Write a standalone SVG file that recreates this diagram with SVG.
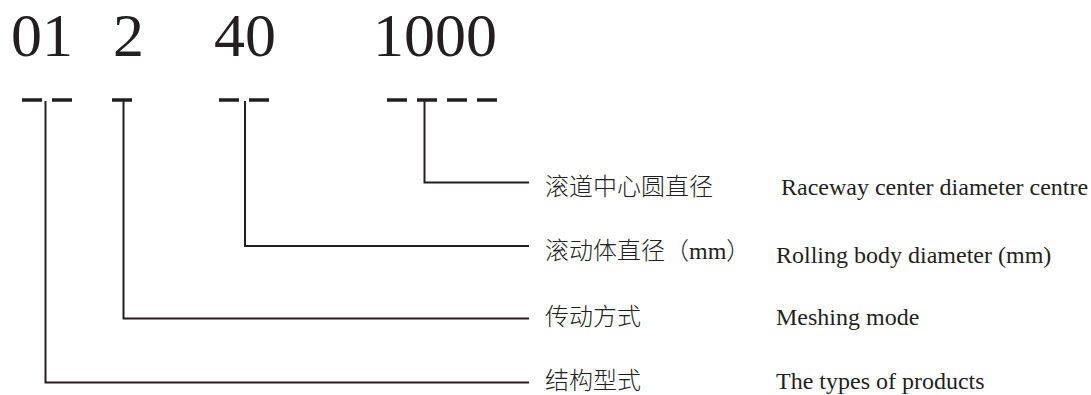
<svg xmlns="http://www.w3.org/2000/svg" width="1091" height="395" viewBox="0 0 1091 395">
<style>
.num{font-family:"Liberation Serif","Times New Roman",serif;font-size:62px;fill:#231f20}
.zh{font-family:"Noto Sans CJK SC","Noto Sans",sans-serif;font-size:24px;font-weight:300;fill:#231f20}
.en{font-family:"Liberation Serif","Times New Roman",serif;font-size:24px;fill:#231f20}
.dash{stroke:#231f20;stroke-width:3.5;fill:none}
.conn{stroke:#231f20;stroke-width:2;fill:none;stroke-linejoin:miter;stroke-linecap:square}
</style>
<rect width="1091" height="395" fill="#ffffff"/>
<g id="code-01">
<text class="num" x="11" y="56">01</text>
<path class="dash" d="M22 100H42M52 100H72"/>
</g>
<g id="code-2">
<text class="num" x="113" y="56">2</text>
<path class="dash" d="M112 100H132"/>
</g>
<g id="code-40">
<text class="num" x="214" y="56">40</text>
<path class="dash" d="M219 100H239M249 100H269"/>
</g>
<g id="code-1000">
<text class="num" x="373" y="56">1000</text>
<path class="dash" d="M387 100H407M417 100H437M447 100H467M477 100H497"/>
</g>
<g id="connectors">
<path class="conn" d="M424.5 102V182.5H528"/>
<path class="conn" d="M245 102V246H528"/>
<path class="conn" d="M123.5 102V318.5H528"/>
<path class="conn" d="M45.5 102V382.5H528"/>
</g>
<g id="label-raceway">
<text class="zh" x="545" y="195">滚道中心圆直径</text>
<text class="en" x="781" y="194.5">Raceway center diameter centre</text>
</g>
<g id="label-rolling">
<text class="zh" x="545" y="258.5">滚动体直径（<tspan font-family="Liberation Serif, serif">mm</tspan>）</text>
<text class="en" x="776" y="262.5">Rolling body diameter (mm)</text>
</g>
<g id="label-meshing">
<text class="zh" x="545" y="325">传动方式</text>
<text class="en" x="776" y="324.5">Meshing mode</text>
</g>
<g id="label-types">
<text class="zh" x="545" y="389">结构型式</text>
<text class="en" x="776" y="388.5">The types of products</text>
</g>
</svg>
